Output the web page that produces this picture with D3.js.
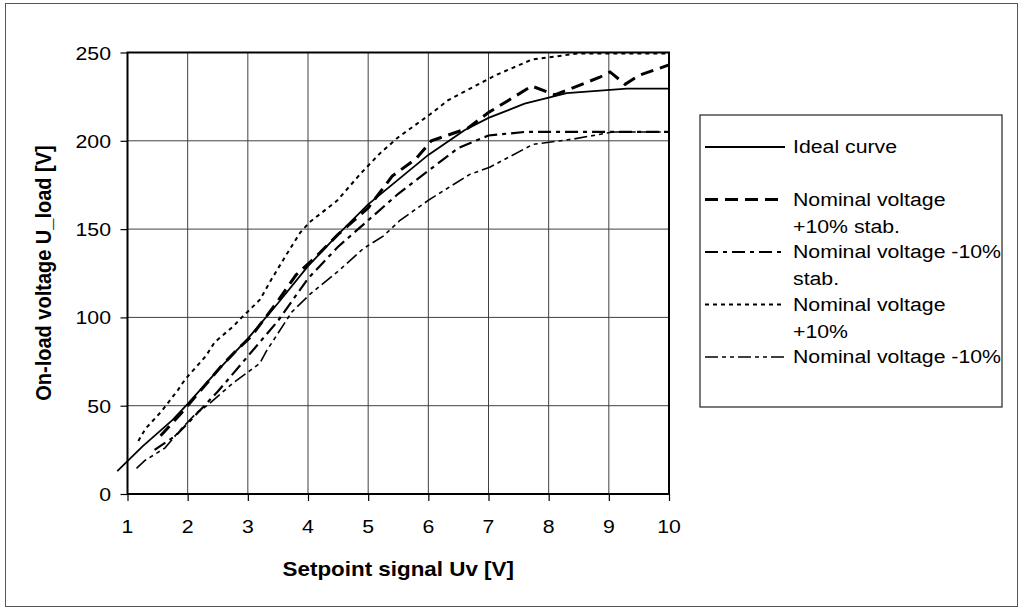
<!DOCTYPE html>
<html>
<head>
<meta charset="utf-8">
<script src="https://cdn.jsdelivr.net/npm/d3@7"></script>
<style>
  body { margin: 0; background: #fff; }
  text { font-family: "Liberation Sans", Arial, sans-serif; fill: #000; }
</style>
</head>
<body>
<script>
// values: [Uv, U_load]
const ideal = [[0.83,13],[1.25,27],[1.75,42],[2,51],[2.5,70],[3,88],[3.5,108],[4,129],[4.5,147],
  [5,164],[5.5,178],[6,192],[6.6,206],[7,213],[7.6,221],[8.3,227],[9.3,229.5],[10,229.5]];
const plusStab = [[1.55,33],[1.9,46],[2.2,58],[2.55,72],[2.8,81],[3.05,89],[3.45,107],[3.8,124],
  [4.15,135],[4.5,147],[5,162],[5.4,180],[5.8,190],[6.05,200],[6.65,207],[7,216],[7.72,231],
  [8.1,226],[8.85,236],[9.02,239],[9.27,232],[9.5,237],[10,243]];
const minusStab = [[1.45,25],[1.8,33],[2,40],[2.5,58],[3,78],[3.5,98],[4,122],[4.5,140],[5,155],
  [5.5,170],[6,183],[6.5,196],[7,203],[7.6,205],[10,205]];
const plus10 = [[1.18,30],[1.3,37],[1.57,47],[1.84,59],[1.96,65],[2.3,78],[2.45,86],[2.76,95],
  [2.9,100],[3.2,110],[3.4,122],[3.65,136],[3.87,148],[4.03,154],[4.48,166],[4.89,182],[5.2,193],
  [5.5,202],[6.03,215],[6.33,223],[7.11,237],[7.72,246],[8.5,249.5],[10,249.5]];
const minus10 = [[1.15,14.5],[1.29,19],[1.62,26],[1.87,36],[2.15,46],[2.32,50],[2.76,63],[3.2,74],
  [3.31,81],[3.73,103],[4.03,113],[4.53,127],[4.92,139],[5.25,146],[5.53,155],[6.03,167],
  [6.69,181],[7.02,185],[7.74,198],[8.41,201],[9.07,205],[10,205]];

const xTicks = [1,2,3,4,5,6,7,8,9,10];
const yTicks = [0,50,100,150,200,250];
const seriesNames = [["Ideal curve"], ["Nominal voltage", "+10% stab."], ["Nominal voltage -10%", "stab."],
  ["Nominal voltage", "+10%"], ["Nominal voltage -10%"]];

const W = 1023, H = 611;
const sx = 1.12; // picture is a little stretched sideways
const styles = [
  {w: 1.8, dash: null},
  {w: 3, dash: "13,7"},
  {w: 2.2, dash: "13,5,4,5"},
  {w: 2, dash: "4,4"},
  {w: 1.6, dash: "13,4,4,4,4,4"}
];
const allSeries = [ideal, plusStab, minusStab, plus10, minus10];

const svg = d3.select("body").append("svg").attr("width", W).attr("height", H);

svg.append("rect").attr("x", 5.5).attr("y", 3.5).attr("width", 1012).attr("height", 603)
  .attr("fill", "none").attr("stroke", "#555");

const x = d3.scaleLinear().domain([1, 10]).range([127.5, 669]);
const y = d3.scaleLinear().domain([0, 250]).range([494, 52.5]);

// grid
svg.append("g").selectAll("line").data(xTicks.slice(1, -1)).join("line")
  .attr("x1", d => x(d)).attr("x2", d => x(d)).attr("y1", y(0)).attr("y2", y(250))
  .attr("stroke", "#404040").attr("stroke-width", 1);
svg.append("g").selectAll("line").data(yTicks.slice(1, -1)).join("line")
  .attr("x1", x(1)).attr("x2", x(10)).attr("y1", d => y(d)).attr("y2", d => y(d))
  .attr("stroke", "#404040").attr("stroke-width", 1);

// axes
const xAxis = svg.append("g").attr("transform", `translate(0,${y(0)})`)
  .call(d3.axisBottom(x).tickValues(xTicks).tickSize(7).tickFormat(""));
const yAxis = svg.append("g").attr("transform", `translate(${x(1)},0)`)
  .call(d3.axisLeft(y).tickValues(yTicks).tickSize(7).tickFormat(""));
[xAxis, yAxis].forEach(g => {
  g.select(".domain").remove();
  g.selectAll(".tick line").attr("stroke", "#000").attr("stroke-width", 1.2);
});

svg.append("rect").attr("x", x(1)).attr("y", y(250)).attr("width", x(10) - x(1)).attr("height", y(0) - y(250))
  .attr("fill", "none").attr("stroke", "#000").attr("stroke-width", 2);

function label(g, tx, ty, str, opts) {
  return g.append("text")
    .attr("transform", `translate(${tx},${ty}) scale(${sx},1)` + (opts.rot ? " rotate(-90)" : ""))
    .attr("text-anchor", opts.anchor || "start")
    .style("font-size", (opts.size || 19) + "px")
    .style("font-weight", opts.bold ? "bold" : "normal")
    .text(str);
}

xTicks.forEach(d => label(svg, x(d), 533, d, {anchor: "middle"}));
yTicks.forEach(d => label(svg, 111, y(d) + 7, d, {anchor: "end"}));

label(svg, x(5.5), 576, "Setpoint signal Uv [V]", {anchor: "middle", bold: true, size: 20});
label(svg, 51, 273, "On-load voltage U_load [V]", {anchor: "middle", bold: true, size: 20, rot: true});

// curves
const line = d3.line().x(d => x(d[0])).y(d => y(d[1]));
allSeries.forEach((s, i) => {
  svg.append("path").datum(s).attr("d", line)
    .attr("fill", "none").attr("stroke", "#000")
    .attr("stroke-width", styles[i].w)
    .attr("stroke-dasharray", styles[i].dash);
});

// legend
const lg = svg.append("g");
lg.append("rect").attr("x", 700).attr("y", 115).attr("width", 302).attr("height", 292)
  .attr("fill", "#fff").attr("stroke", "#222").attr("stroke-width", 1.2);
const base0 = 153, step = 52.5, lh = 27;
seriesNames.forEach((lines, i) => {
  const b = base0 + i * step;
  lg.append("line").attr("x1", 705).attr("x2", 785).attr("y1", b - 6).attr("y2", b - 6)
    .attr("stroke", "#000").attr("stroke-width", styles[i].w)
    .attr("stroke-dasharray", styles[i].dash);
  lines.forEach((t, j) => label(lg, 793, b + j * lh, t, {}));
});
</script>
</body>
</html>
